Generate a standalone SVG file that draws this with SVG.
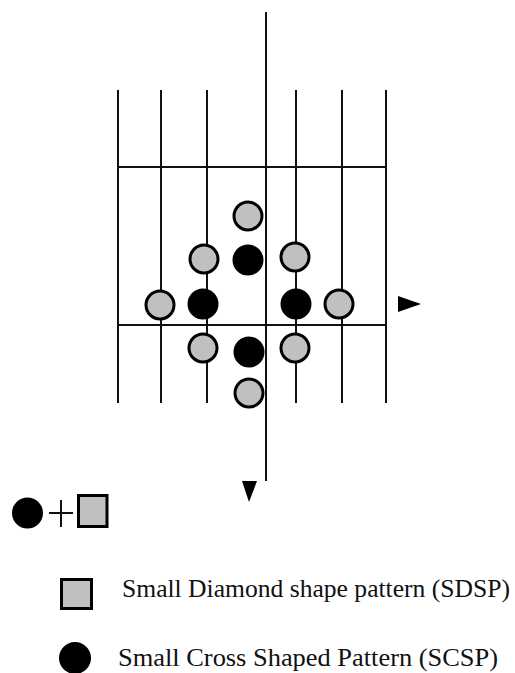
<svg xmlns="http://www.w3.org/2000/svg" width="515" height="673" viewBox="0 0 515 673">
<style>
.ln{stroke:#111;stroke-width:2;fill:none}
.g{fill:#c0c0c0;stroke:#000;stroke-width:3}
.b{fill:#000}
.sq{fill:#c0c0c0;stroke:#000;stroke-width:3}
.t{font-family:"Liberation Serif",serif;font-size:25px;fill:#111}
</style>
<rect width="515" height="673" fill="#fff"/>
<g id="connectors">
<line class="ln" x1="266" y1="12" x2="266" y2="481"/>
<line class="ln" x1="118" y1="90" x2="118" y2="403"/>
<line class="ln" x1="161" y1="90" x2="161" y2="403"/>
<line class="ln" x1="207" y1="90" x2="207" y2="403"/>
<line class="ln" x1="296" y1="90" x2="296" y2="403"/>
<line class="ln" x1="342" y1="90" x2="342" y2="403"/>
<line class="ln" x1="386" y1="90" x2="386" y2="403"/>
<line class="ln" x1="118" y1="167" x2="386" y2="167"/>
<line class="ln" x1="118" y1="325" x2="386" y2="325"/>
<polygon points="398,296 421,304 398,312" fill="#000"/>
<polygon points="242,481 257,481 249,502" fill="#000"/>
</g>
<g id="sdsp-points">
<circle class="g" cx="248" cy="216" r="14"/>
<circle class="g" cx="204" cy="259" r="14"/>
<circle class="g" cx="295" cy="257" r="14"/>
<circle class="g" cx="160" cy="305" r="14"/>
<circle class="g" cx="339" cy="304" r="14"/>
<circle class="g" cx="203" cy="348" r="14"/>
<circle class="g" cx="295" cy="348" r="14"/>
<circle class="g" cx="249" cy="393" r="14"/>
</g>
<g id="scsp-points">
<circle class="b" cx="248" cy="260" r="15.5"/>
<circle class="b" cx="203" cy="304" r="15.5"/>
<circle class="b" cx="296" cy="304" r="15.5"/>
<circle class="b" cx="249" cy="352" r="15.5"/>
</g>
<g id="legend-combined">
<circle class="b" cx="27.5" cy="513" r="15.5"/>
<line class="ln" x1="49" y1="513" x2="73" y2="513" stroke-width="1.5"/>
<line class="ln" x1="61" y1="500" x2="61" y2="527" stroke-width="1.5"/>
<rect class="sq" x="78.5" y="495.5" width="28.5" height="31"/>
</g>
<g id="legend-sdsp">
<rect class="sq" x="61.5" y="579.5" width="30" height="29"/>
<text class="t" x="122" y="597" textLength="388" lengthAdjust="spacingAndGlyphs">Small Diamond shape pattern (SDSP)</text>
</g>
<g id="legend-scsp">
<circle class="b" cx="75" cy="658" r="16"/>
<text class="t" x="118" y="666" textLength="380" lengthAdjust="spacingAndGlyphs">Small Cross Shaped Pattern (SCSP)</text>
</g>
</svg>
